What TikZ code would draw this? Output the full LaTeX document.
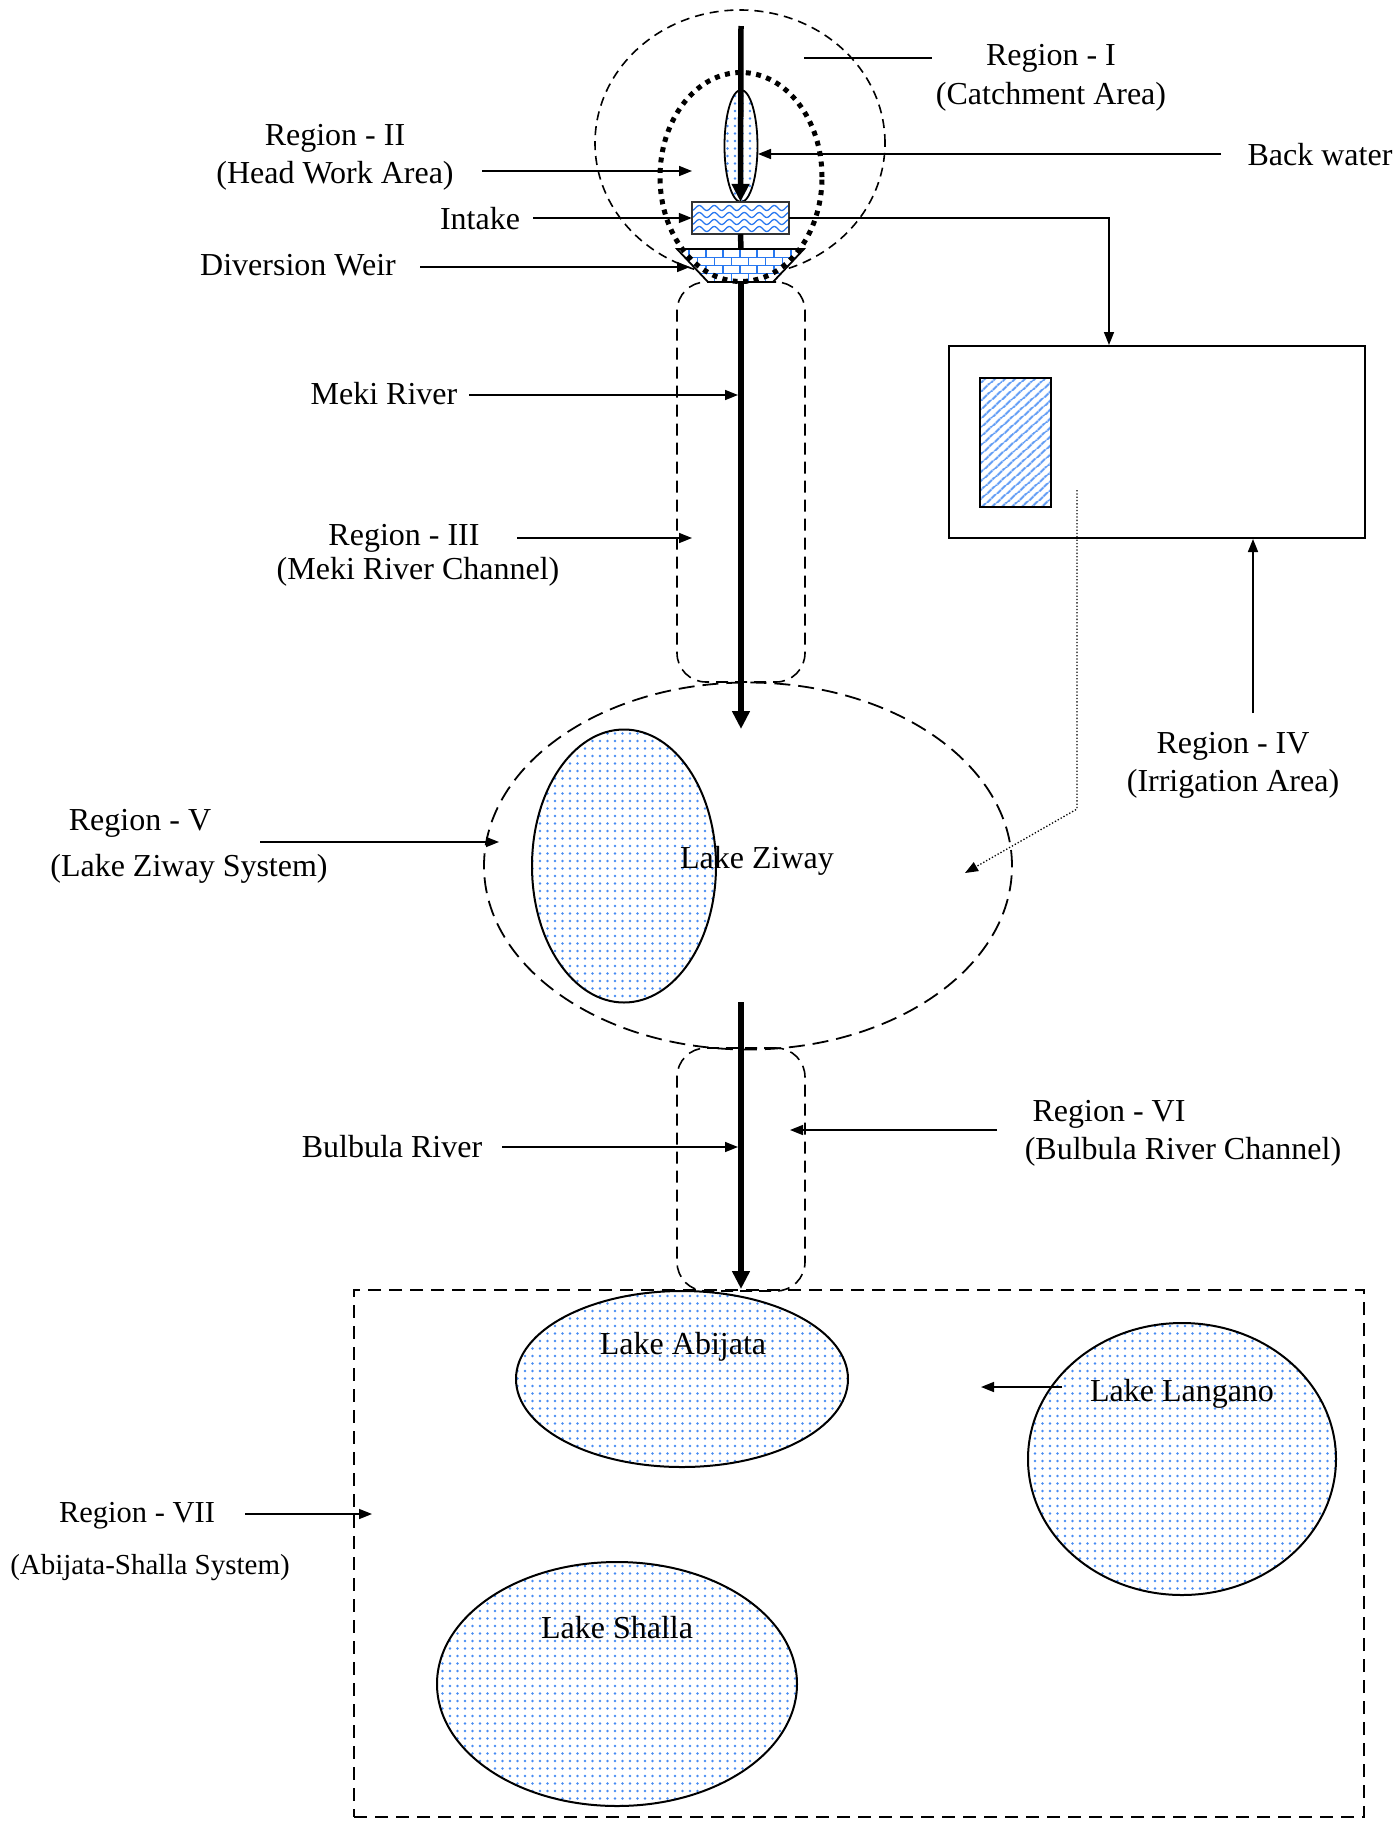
\documentclass[tikz,border=0pt]{standalone}
\usepackage{fontspec}
\setmainfont{Liberation Serif}
\usetikzlibrary{shapes.geometric,patterns,patterns.meta,arrows.meta}
\definecolor{wblue}{RGB}{40,120,240}
\tikzdeclarepattern{
  name=lakedots, type=uncolored,
  bounding box={(-1.6pt,-1.6pt) and (1.6pt,1.6pt)},
  tile size={(7.5pt,7.5pt)},
  code={\fill (0pt,0pt) circle (1.35pt);}
}
\begin{document}
\begin{tikzpicture}[x=1pt,y=-1pt,
  lbl/.style={inner sep=0pt, yshift=-3.5pt, font=\fontsize{32}{38}\selectfont},
  thinline/.style={line width=1.6pt},
  arr/.style={line width=1.6pt, -{Triangle[length=13pt,width=10pt]}},
  bigarr/.style={line width=5.5pt, -{Triangle[length=18pt,width=17pt]}},
  lake/.style={ellipse, draw, line width=2pt, pattern=lakedots, pattern color=wblue!85, inner sep=0pt},
  dashA/.style={line width=1.8pt, dash pattern=on 13pt off 8pt},
]
\useasboundingbox (0,0) rectangle (1398,1821);

% ---------- Region I / II (top) ----------
\node[ellipse, draw, line width=1.6pt, dash pattern=on 9pt off 6pt, minimum width=290pt, minimum height=266pt, inner sep=0pt] (catch) at (740,143) {};
\node[lake, line width=1.8pt, minimum width=33pt, minimum height=112pt] (lens) at (741,146) {};

% intake box with waves
\node[minimum width=97pt, minimum height=32pt, inner sep=0pt, fill=white] (intake) at (740.5,218) {};
\begin{scope}
  \clip (intake.south west) rectangle (intake.north east);
  \foreach \r in {208,215,222,229}
    \draw[wblue, line width=1.3pt] plot[domain=688:794, samples=90, smooth] (\x, {\r + 2.5*sin(24*(\x-688))});
\end{scope}
\draw[line width=1.6pt, draw=black!80] (intake.south west) rectangle (intake.north east);

% diversion weir (bricks)
\coordinate (w1) at (677,249);
\coordinate (w2) at (804,249);
\coordinate (w3) at (773,282);
\coordinate (w4) at (708,282);
\coordinate (weirT) at (741,249);
\coordinate (weirB) at (741,282);
\fill[white] (w1)--(w2)--(w3)--(w4)--cycle;
\begin{scope}
  \clip (w1)--(w2)--(w3)--(w4)--cycle;
  \foreach \k in {0,1,2,3} {
    \pgfmathsetmacro{\ya}{249+8.25*\k}
    \pgfmathsetmacro{\yb}{\ya+8.25}
    \draw[wblue, line width=1.2pt] (670,\yb) -- (810,\yb);
    \foreach \i in {0,...,8} {
      \pgfmathsetmacro{\xx}{672+17*\i+8.5*mod(\k,2)}
      \draw[wblue, line width=1.2pt] (\xx,\ya) -- (\xx,\yb);
    }
  }
\end{scope}
\draw[line width=1.8pt] (w1)--(w2)--(w3)--(w4)--cycle;

\node[ellipse, draw, line width=5pt, dash pattern=on 5pt off 5.5pt, minimum width=162pt, minimum height=209pt, inner sep=0pt] (head) at (741,177) {};

% river through the top
\coordinate (riverTop) at (741,26);
\draw[bigarr] (riverTop) -- (intake.north);
\draw[line width=5.5pt] (intake.south) -- (weirT);

% ---------- Meki channel ----------
\node[draw, line width=1.6pt, dash pattern=on 12pt off 7pt, rounded corners=29pt, minimum width=128pt, minimum height=400pt, inner sep=0pt] (meki) at (741,482) {};
\coordinate (mekiTip) at (741,729);
\draw[bigarr] (weirB) -- (mekiTip);

% ---------- Irrigation area ----------
\node[draw, line width=2pt, minimum width=416pt, minimum height=192pt, inner sep=0pt] (irr) at (1157,442) {};
\node[draw, line width=2pt, minimum width=71pt, minimum height=129pt, inner sep=0pt,
      pattern={Lines[angle=42,distance=6.5pt,line width=2.2pt]}, pattern color=wblue!75] (field) at (1015.5,442.5) {};
\coordinate (irrIn) at (1109,218);
\draw[arr] (intake.east) -- (irrIn) -- (irrIn |- irr.north);

% ---------- Region V ----------
\node[ellipse, draw, line width=1.8pt, dash pattern=on 16pt off 8pt, minimum width=528pt, minimum height=367pt, inner sep=0pt] (sysV) at (748,866) {};
\node[lake, minimum width=184pt, minimum height=273pt] (ziway) at (624,866) {};
\node[lbl] (ziwayL) at (757,857) {Lake Ziway};

% dotted link from irrigation area to Lake Ziway system
\coordinate (dotA) at (1077,490);
\coordinate (dotB) at (1077,809);
\coordinate (dotC) at (965,873);
\draw[line width=1.3pt, dotted, -{Triangle[length=13pt,width=10pt]}] (dotA) -- (dotB) -- (dotC);

% ---------- Bulbula channel ----------
\node[draw, line width=1.6pt, dash pattern=on 12pt off 7pt, rounded corners=29pt, minimum width=128pt, minimum height=243pt, inner sep=0pt] (bulb) at (741,1169.5) {};
\coordinate (bulbTop) at (741,1002);
\coordinate (bulbTip) at (741,1289);
\draw[bigarr] (bulbTop) -- (bulbTip);

% ---------- Region VII ----------
\node[draw, dashA, minimum width=1010pt, minimum height=527pt, inner sep=0pt] (sysVII) at (859,1553.5) {};
\node[lake, minimum width=332pt, minimum height=176pt] (abijata) at (682,1379) {};
\node[lake, minimum width=308pt, minimum height=272pt] (langano) at (1182,1459) {};
\node[lake, minimum width=360pt, minimum height=244pt] (shalla) at (617,1684) {};
\node[lbl] (abL) at (683,1343) {Lake Abijata};
\node[lbl] (langL) at (1182,1390) {Lake Langano};
\node[lbl] (shL) at (617,1624) {Lake Shalla};

% ---------- Labels ----------
\node[lbl] (r1a) at (1051,55) {Region - I};
\node[lbl] (r1b) at (1051,93) {(Catchment Area)};
\node[lbl] (bw) at (1320,151) {Back water};
\node[lbl] (r2a) at (335,135) {Region - II};
\node[lbl] (r2b) at (335,172) {(Head Work Area)};
\node[lbl] (intakeL) at (480,215) {Intake};
\node[lbl] (weirL) at (298,262) {Diversion Weir};
\node[lbl] (mekiL) at (384,390) {Meki River};
\node[lbl] (r3a) at (404,535) {Region - III};
\node[lbl] (r3b) at (418,568) {(Meki River Channel)};
\node[lbl] (r4a) at (1233,743) {Region - IV};
\node[lbl] (r4b) at (1233,780) {(Irrigation Area)};
\node[lbl] (r5a) at (140,820) {Region - V};
\node[lbl] (r5b) at (189,865) {(Lake Ziway System)};
\node[lbl] (bulbL) at (392,1143) {Bulbula River};
\node[lbl] (r6a) at (1109,1111) {Region - VI};
\node[lbl] (r6b) at (1183,1148) {(Bulbula River Channel)};
\node[lbl, font=\fontsize{30.5}{36}\selectfont] (r7a) at (137,1512) {Region - VII};
\node[lbl, font=\fontsize{29}{35}\selectfont] (r7b) at (150,1564) {(Abijata-Shalla System)};

% ---------- Leader arrows ----------
\coordinate (r1s) at (804,58);
\coordinate (r1e) at (932,58);
\draw[thinline] (r1s) -- (r1e);

\coordinate (bwS) at (1221,154);
\coordinate (bwT) at (758,154);
\draw[arr] (bwS) -- (bwT);

\coordinate (r2S) at (482,171);
\coordinate (r2T) at (692,171);
\draw[arr] (r2S) -- (r2T);

\coordinate (inS) at (533,218);
\draw[arr] (inS) -- (intake.west);

\coordinate (wS) at (420,267);
\coordinate (wT) at (690,267);
\draw[arr] (wS) -- (wT);

\coordinate (mkS) at (469,395);
\coordinate (mkT) at (738,395);
\draw[arr] (mkS) -- (mkT);

\coordinate (r3S) at (517,538);
\coordinate (r3T) at (692,538);
\draw[arr] (r3S) -- (r3T);

\coordinate (r4S) at (1253,713);
\draw[arr] (r4S) -- (r4S |- irr.south);

\coordinate (r5S) at (260,842);
\coordinate (r5T) at (499,842);
\draw[arr] (r5S) -- (r5T);

\coordinate (bbS) at (502,1147);
\coordinate (bbT) at (738,1147);
\draw[arr] (bbS) -- (bbT);

\coordinate (r6S) at (997,1130);
\coordinate (r6T) at (790,1130);
\draw[arr] (r6S) -- (r6T);

\coordinate (lgS) at (1062,1387);
\coordinate (lgT) at (981,1387);
\draw[arr] (lgS) -- (lgT);

\coordinate (r7S) at (245,1514);
\coordinate (r7T) at (372,1514);
\draw[arr] (r7S) -- (r7T);
\end{tikzpicture}
\end{document}
